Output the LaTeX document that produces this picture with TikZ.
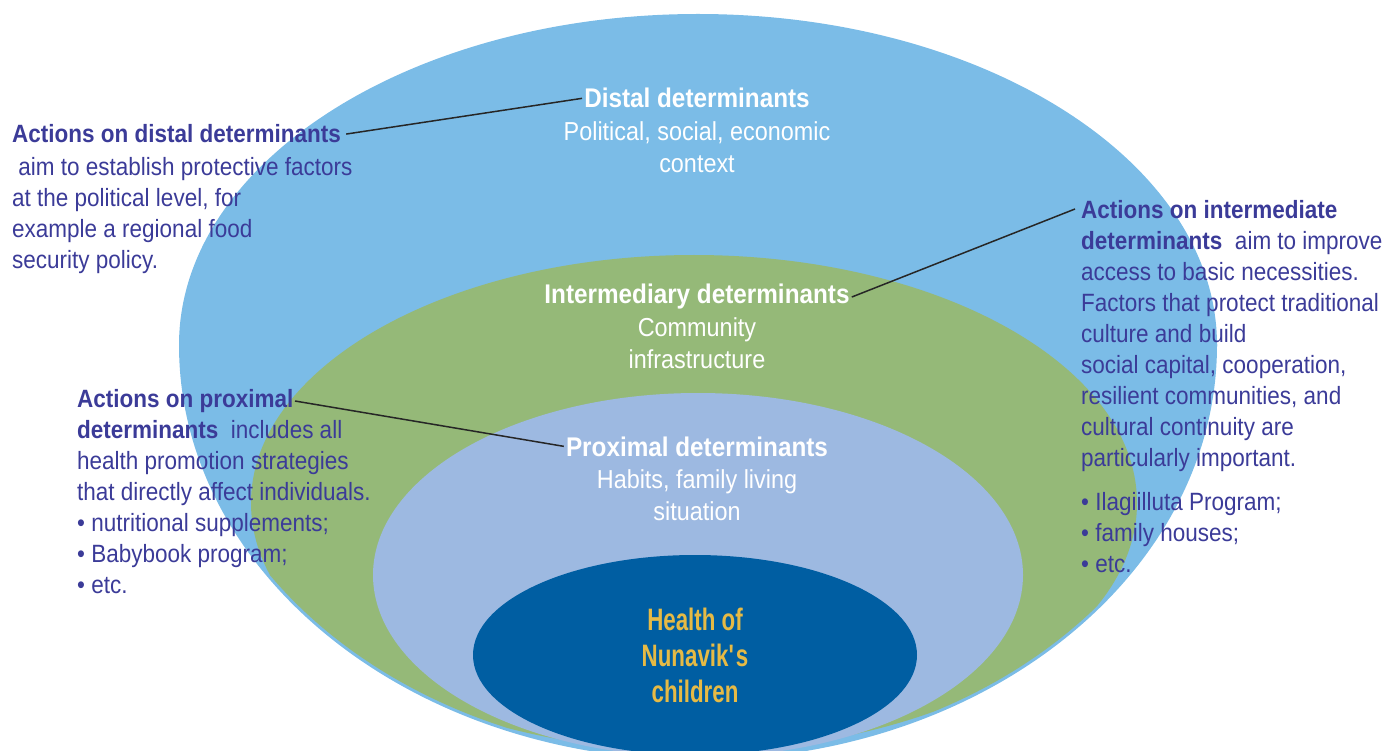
\documentclass[tikz,border=0pt]{standalone}
\usepackage{fontspec}
\setmainfont{Liberation Sans}[FakeStretch=0.9]
\newfontfamily\healthfont{Liberation Sans}[FakeStretch=0.72]
\definecolor{distalblue}{HTML}{7BBCE7}
\definecolor{intergreen}{HTML}{95B978}
\definecolor{proxblue}{HTML}{9DB9E1}
\definecolor{corenavy}{HTML}{005EA2}
\definecolor{coreyellow}{HTML}{E6BA45}
\definecolor{actionink}{HTML}{3B3B98}

\begin{document}
\begin{tikzpicture}[x=1pt, y=-1pt,
    layertitle/.style={text=white, font=\fontsize{27}{32}\selectfont\bfseries, inner sep=2pt},
    layertext/.style={text=white, font=\fontsize{26}{32}\selectfont, align=center, inner sep=0pt},
    actionhead/.style={text=actionink, font=\fontsize{25}{31}\selectfont\bfseries, inner sep=5pt},
    actiontext/.style={text=actionink, font=\fontsize{25}{31}\selectfont, align=left, inner sep=0pt},
    leader/.style={draw=black!85, line width=1.5pt}]
    \useasboundingbox (0,0) rectangle (1387,751);
    \clip (0,0) rectangle (1387,751);

    \begin{scope}
        \clip (0,0) rectangle (1387,346);
        \fill[distalblue] (698,345) ellipse [x radius=519, y radius=331];
    \end{scope}
    \begin{scope}
        \clip (0,345) rectangle (1387,751);
        \fill[distalblue] (698,345) ellipse [x radius=519, y radius=415];
    \end{scope}
    \begin{scope}
        \clip (698,345) ellipse [x radius=516, y radius=412];
        \fill[intergreen] (694,503) ellipse [x radius=443, y radius=248];
    \end{scope}
    \fill[proxblue] (698,575) ellipse [x radius=325, y radius=182];
    \fill[corenavy] (695,655) ellipse [x radius=222, y radius=100];

    \node[layertitle, anchor=base] (distal) at (697,108) {Distal determinants};
    \node[layertext, anchor=north] (distal-txt) at (697,121) {Political, social, economic\\context};
    \node[layertitle, anchor=base] (interm) at (697,304) {Intermediary determinants};
    \node[layertext, anchor=north] (interm-txt) at (697,317) {Community\\infrastructure};
    \node[layertitle, anchor=base] (prox) at (697,456) {Proximal determinants};
    \node[layertext, anchor=north] (prox-txt) at (697,469) {Habits, family living\\situation};
    \node[text=coreyellow,
        font=\healthfont\fontsize{31}{36}\selectfont\bfseries,
        align=center,
        inner sep=0pt,
        anchor=north] (health) at (695,608) {Health of\\Nunavik\textquotesingle s\\ children};

    \node[actionhead, anchor=base west] (act-distal) at (7,143) {Actions on distal determinants};
    \node[actiontext, anchor=north west] (act-distal-txt) at (12,157) {\ aim to establish protective factors\\at the political level, for\\example a regional food\\security policy.};
    \node[actiontext, anchor=north west] (act-interm) at (1081,200) {\textbf{Actions on intermediate}\\\textbf{determinants}\ \ aim to improve\\access to basic necessities.\\Factors that protect traditional\\culture and build\\social capital, cooperation,\\resilient communities, and\\cultural continuity are\\particularly important.\\[13pt]\textbullet\ Ilagiilluta Program;\\\textbullet\ family houses;\\\textbullet\ etc.};
    \node[actiontext, anchor=north west] (act-prox) at (77,389) {\textbf{Actions on proximal}\\\textbf{determinants}\ \ includes all\\health promotion strategies\\that directly affect individuals.\\\textbullet\ nutritional supplements;\\\textbullet\ Babybook program;\\\textbullet\ etc.};
    \coordinate (act-interm-tip) at (1075,209);
    \coordinate (act-prox-tip) at (295,401);

    \draw[leader] (act-distal.east) -- (distal.west);
    \draw[leader] (interm.east) -- (act-interm-tip);
    \draw[leader] (act-prox-tip) -- (prox.west);
\end{tikzpicture}
\end{document}
